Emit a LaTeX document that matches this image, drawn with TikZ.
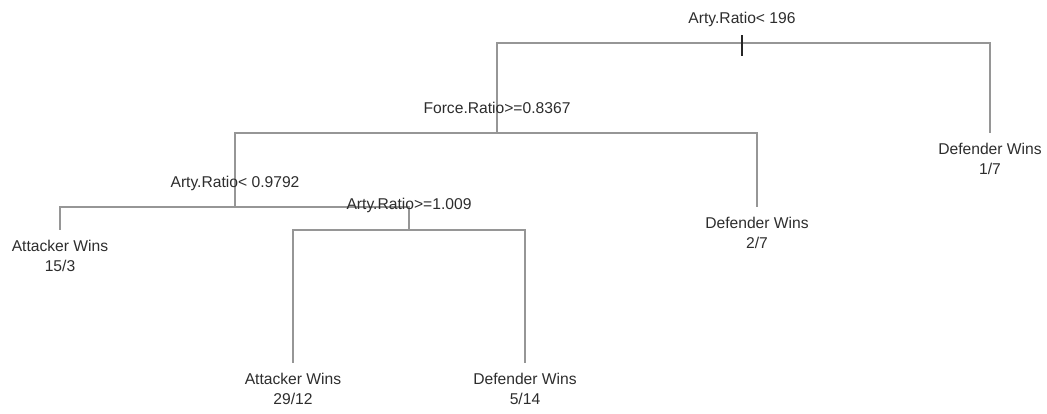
\documentclass[tikz,border=0pt]{standalone}
\usepackage{fontspec}
\setmainfont{Liberation Sans}
\begin{document}
\begin{tikzpicture}[x=1bp,y=-1bp,
  branch/.style={draw=treegray, line width=1.2bp},
  splitlabel/.style={anchor=base, inner sep=0pt, text=txt, font=\fontsize{15.7}{20.5}\selectfont},
  leaflabel/.style={anchor=north, inner sep=0pt, align=center, text=txt, font=\fontsize{15.7}{20.5}\selectfont}]
\definecolor{treegray}{RGB}{150,150,150}
\definecolor{txt}{RGB}{45,45,45}
\useasboundingbox (0,0) rectangle (1047,413);
% split points
\coordinate (r) at (742,43);
\coordinate (a) at (497,133);
\coordinate (lb) at (990,133);
\coordinate (c) at (235,207);
\coordinate (ld) at (757,207);
\coordinate (le) at (60,230);
\coordinate (f) at (409,230);
\coordinate (lg) at (293,363);
\coordinate (lh) at (525,363);
\coordinate (tt) at (742,35);
\coordinate (tb) at (742,56);
% branches
\draw[branch] (r) -| (a);
\draw[branch] (r) -| (lb);
\draw[branch] (a) -| (c);
\draw[branch] (a) -| (ld);
\draw[branch] (c) -| (le);
\draw[branch] (c) -| (f);
\draw[branch] (f) -| (lg);
\draw[branch] (f) -| (lh);
\draw[draw=black!85, line width=1.4bp] (tt) -- (tb);
% split labels
\node[splitlabel] (sr) at ([yshift=19.5bp]r) {Arty.Ratio< 196};
\node[splitlabel] (sa) at ([yshift=19.5bp]a) {Force.Ratio>=0.8367};
\node[splitlabel] (sc) at ([yshift=19.5bp]c) {Arty.Ratio< 0.9792};
\node[splitlabel] (sf) at ([yshift=21bp]f) {Arty.Ratio>=1.009};
% leaf labels
\node[leaflabel] (tb1) at ([yshift=-10bp]lb) {Defender Wins\\1/7};
\node[leaflabel] (td1) at ([yshift=-10bp]ld) {Defender Wins\\2/7};
\node[leaflabel] (te1) at ([yshift=-10bp]le) {Attacker Wins\\15/3};
\node[leaflabel] (tg1) at ([yshift=-10bp]lg) {Attacker Wins\\29/12};
\node[leaflabel] (th1) at ([yshift=-10bp]lh) {Defender Wins\\5/14};
\end{tikzpicture}
\end{document}
